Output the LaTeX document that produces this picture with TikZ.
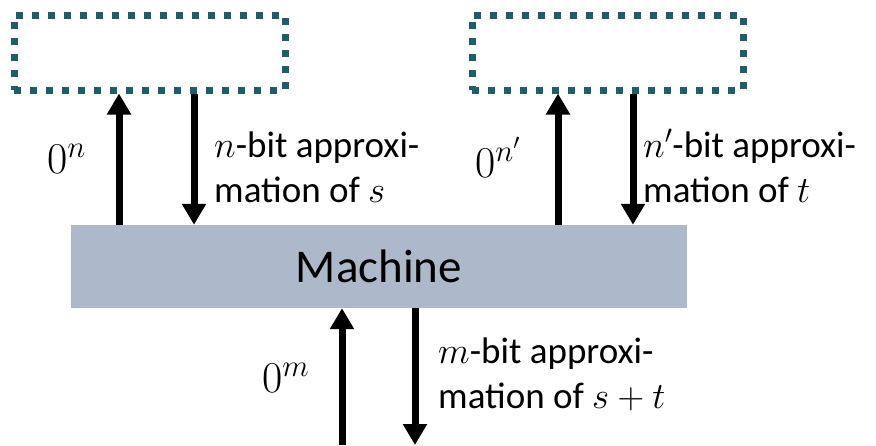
\RequirePackage{fix-cm}
\documentclass[tikz,border=0pt]{standalone}
\usepackage{fontspec}
\setmainfont{Carlito}
\usetikzlibrary{arrows.meta}
\definecolor{dotteal}{RGB}{31,93,108}
\definecolor{machinefill}{RGB}{173,185,202}
\begin{document}
\begin{tikzpicture}[x=1pt,y=-1pt,
  oracle/.style={draw=dotteal, line width=7pt, dash pattern=on 7pt off 9pt,
    minimum width=271pt, minimum height=75pt, inner sep=0pt},
  machinebox/.style={fill=machinefill, minimum width=616pt, minimum height=83pt,
    inner sep=0pt, font=\fontsize{47}{56}\selectfont},
  flow/.style={line width=7pt, -{Triangle[width=23pt,length=21pt]}},
  lbl/.style={font=\fontsize{37}{45}\selectfont, align=left, anchor=base west, inner sep=0pt},
  zlbl/.style={font=\fontsize{44}{50}\selectfont, anchor=base west, inner sep=0pt}]
\useasboundingbox (0,0) rectangle (876,445);

% oracles and the machine
\node[oracle] (boxs) at (149.5,52.5) {};
\node[oracle] (boxt) at (607.5,52.5) {};
\node[machinebox] (machine) at (379,266.5) {Machine};

% columns of the connectors
\coordinate (sUp) at (119,0);
\coordinate (sDn) at (194,0);
\coordinate (tUp) at (558,0);
\coordinate (tDn) at (633,0);
\coordinate (mUpFoot) at (342,445);
\coordinate (mDnFoot) at (415,445);

% queries and answers
\draw[flow] (machine.north -| sUp) -- (boxs.south -| sUp);
\draw[flow] (boxs.south -| sDn) -- (machine.north -| sDn);
\draw[flow] (machine.north -| tUp) -- (boxt.south -| tUp);
\draw[flow] (boxt.south -| tDn) -- (machine.north -| tDn);
\draw[flow] (mUpFoot) -- (machine.south -| mUpFoot);
\draw[flow] (machine.south -| mDnFoot) -- (mDnFoot);

% labels (base anchor sits on the last line)
\node[zlbl] (qs) at (47,173) {$0^{n}$};
\node[lbl] (as) at (214,202) {$n$-bit approxi-\\mation of $s$};
\node[zlbl] (qt) at (475,177) {$0^{n'}$};
\node[lbl] (at) at (643,202) {$n'$-bit approxi-\\mation of $t$};
\node[zlbl] (qm) at (262,392) {$0^{m}$};
\node[lbl] (am) at (438,408) {$m$-bit approxi-\\mation of $s+t$};
\end{tikzpicture}
\end{document}
